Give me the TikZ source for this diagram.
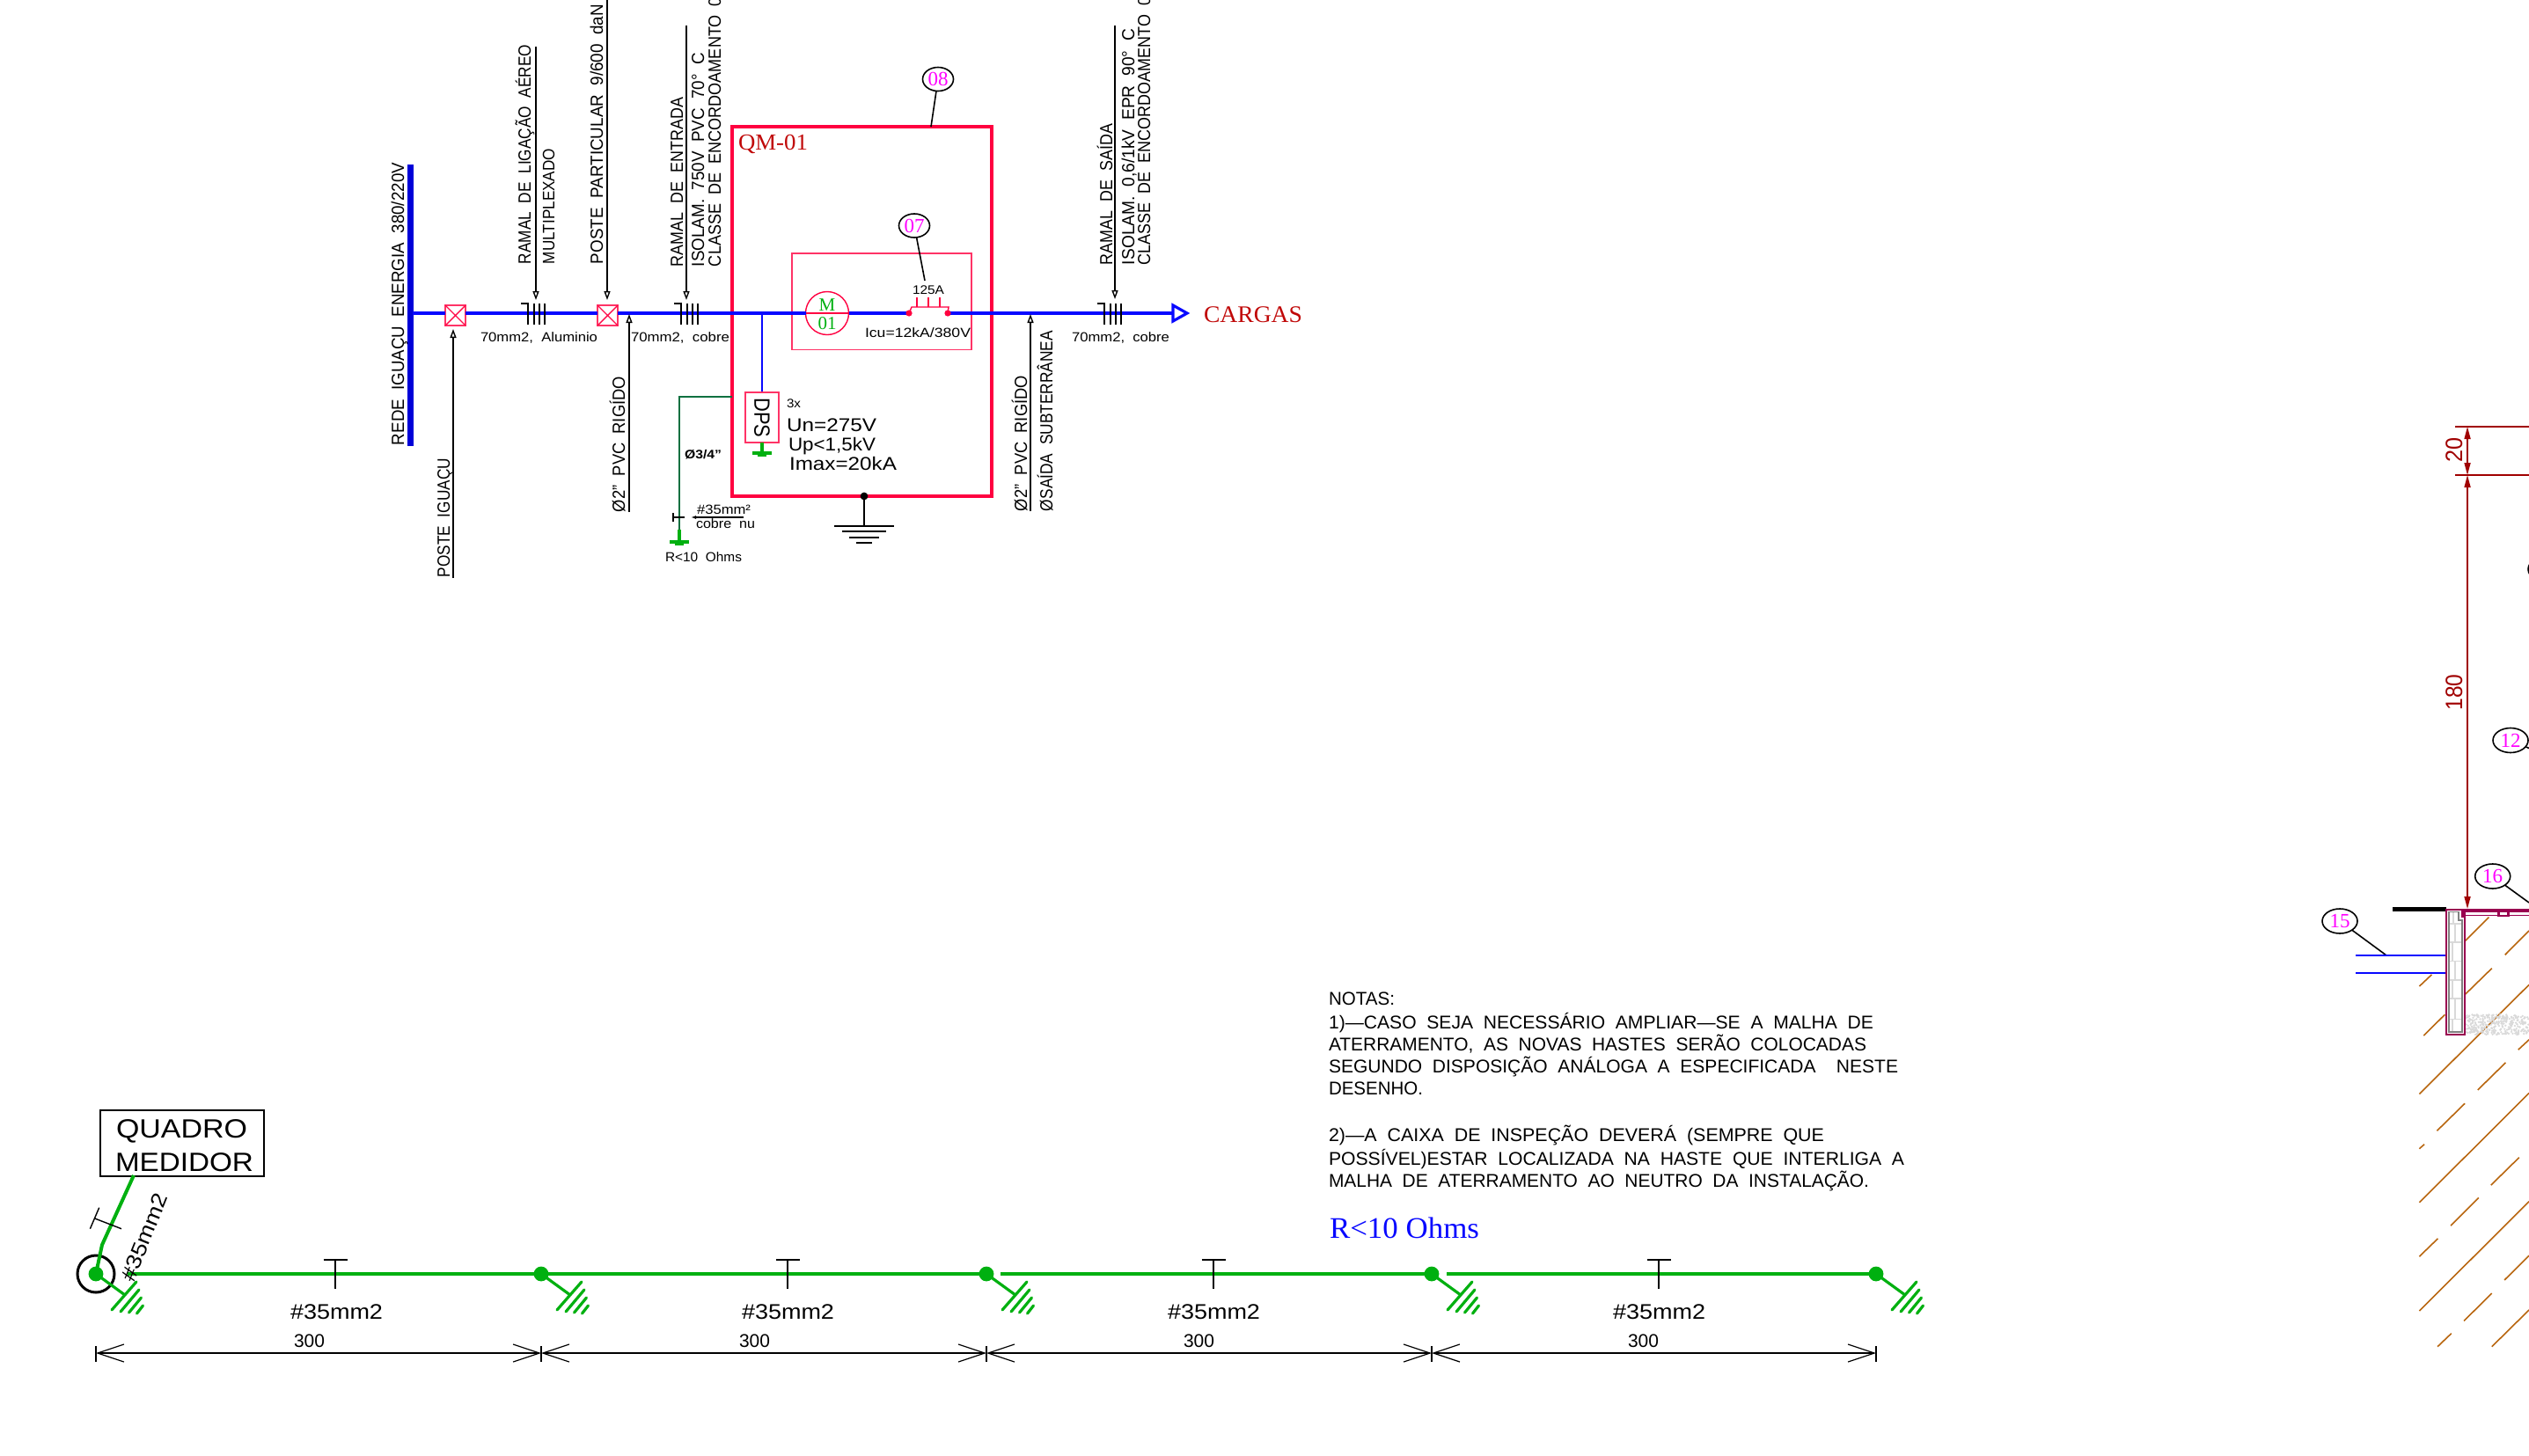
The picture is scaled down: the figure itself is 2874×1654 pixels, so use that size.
\documentclass[tikz,border=0pt]{standalone}
\usepackage{fontspec}
\usepackage{graphicx}
\setmainfont[WordSpace=2]{Liberation Sans}
\newfontfamily\srf{Liberation Serif}
\usetikzlibrary{arrows.meta,shapes.geometric,calc}
\newdimen\pxu \pxu=0.5pt
\newcommand\fit[3]{{\fontsize{#2pt}{#2pt}\selectfont\resizebox{#1\pxu}{\height}{#3}}}
\definecolor{qmred}{HTML}{FF0040}
\definecolor{boxred}{HTML}{FF3366}
\definecolor{wireblue}{HTML}{0808FF}
\definecolor{earth}{HTML}{00B010}
\definecolor{dkgreen}{HTML}{0F7040}
\definecolor{txtred}{HTML}{C00808}
\definecolor{dimred}{HTML}{A00000}
\definecolor{maroon}{HTML}{990050}
\definecolor{soil}{HTML}{B8660F}
\definecolor{bubbletxt}{HTML}{FF00FF}
\definecolor{barblue}{HTML}{0000D8}
\tikzset{
  lbl/.style={anchor=base west,inner sep=0,outer sep=0},
  lblc/.style={anchor=center,inner sep=0,outer sep=0},
  leader/.style={black,line width=0.7pt,-{Triangle[open,length=5pt,width=3.5pt]}},
  thin blk/.style={black,line width=0.6pt},
  bus/.style={wireblue,line width=1.7pt},
  green wire/.style={earth,line width=2pt},
  bubble/.style={ellipse,draw=black,line width=0.8pt,minimum width=20pt,minimum height=14pt,inner sep=0,outer sep=0,text=bubbletxt,font={\srf\fontsize{11.5pt}{11.5pt}\selectfont},fill=white},
  smallbubble/.style={bubble,minimum width=17.5pt,minimum height=13.5pt},
  xbox/.style={rectangle,draw=boxred,line width=0.8pt,fill=white,minimum width=11.5pt,minimum height=11.5pt,inner sep=0,outer sep=0},
  dimline/.style={black,line width=0.6pt,{Straight Barb[length=15pt,width=10pt]}-{Straight Barb[length=15pt,width=10pt]}},
  reddim/.style={dimred,line width=0.8pt},
  redtips/.style={reddim,{Triangle[length=7pt,width=3.5pt]}-{Triangle[length=7pt,width=3.5pt]}}
}
\newcommand\cable[1]{%
  \draw[black,line width=0.8pt] (#1,345)--(#1+8,345)--(#1+8,369);
  \draw[black,line width=0.8pt] (#1+15,345)--(#1+15,369) (#1+21,345)--(#1+21,369) (#1+27,345)--(#1+27,369);}
\newcommand\gnd[2]{%
  \fill[earth] (#1-11,#2) rectangle (#1+11,#2+4);
  \fill[earth] (#1-5,#2+4) rectangle (#1+5,#2+6);}
\begin{document}
\begin{tikzpicture}[x=0.5pt,y=-0.5pt]
\useasboundingbox (0,0) rectangle (2874,1654);
\clip (0,0) rectangle (2874,1654);

% --- named connection points
\coordinate (busE) at (469,356);
\coordinate (dpsJ) at (866,356);
\coordinate (brL) at (1033,356);
\coordinate (brR) at (1077,356);
\coordinate (loadA) at (1333,356);
\coordinate (dkTop) at (832,451);
\coordinate (dkCorner) at (772,451);
\coordinate (dkBot) at (772,602);
\coordinate (grTip) at (772,614);
\coordinate (gndTop) at (982,564);
\coordinate (gndBot) at (982,598);

% --- QM box
\node[rectangle,draw=qmred,line width=2.4pt,minimum width=147.5pt,minimum height=210pt,inner sep=0,outer sep=0] (qm) at (979.5,354) {};
\node[rectangle,draw=boxred,line width=0.7pt,minimum width=102pt,minimum height=54.8pt,inner sep=0,outer sep=0] (inner) at (1002,342.8) {};
\node[lbl] (qmt) at (839,170) {\srf\color{txtred}\fit{79}{13}{QM-01}};

% --- main feeder
\node[rectangle,fill=barblue,minimum width=3.25pt,minimum height=160pt,inner sep=0,outer sep=0] (bar) at (466.3,347) {};
\node[xbox] (x1) at (517.5,358.5) {};
\node[xbox] (x2) at (690.5,358.5) {};
\draw[qmred!70!boxred,line width=0.7pt] (x1.north west)--(x1.south east) (x1.north east)--(x1.south west);
\draw[qmred!70!boxred,line width=0.7pt] (x2.north west)--(x2.south east) (x2.north east)--(x2.south west);
\node[ellipse,draw=qmred,line width=0.7pt,minimum width=24.5pt,minimum height=24.5pt,inner sep=0,outer sep=0] (m01) at (940,356) {};
\draw[qmred,line width=0.7pt] (m01.west)--(m01.east);
\node[lblc,anchor=base] (mM) at (940,353) {\srf\color{earth}\fontsize{10.5pt}{10.5pt}\selectfont M};
\node[lblc,anchor=base] (m1) at (940,374) {\srf\color{earth}\fontsize{10.5pt}{10.5pt}\selectfont 01};
\draw[bus] (busE) -- (x1.west |- busE);
\draw[bus] (x1.east |- busE) -- (x2.west |- busE);
\draw[bus] (x2.east |- busE) -- (m01.west);
\draw[bus] (m01.east) -- (brL);
\draw[bus] (brR) -- (loadA);
\draw[bus,line width=1.3pt] (dpsJ) -- (866,446);
\draw[wireblue,line width=1.6pt,fill=white] (loadA |- 0,347) -- (1349,356) -- (loadA |- 0,365) -- cycle;
\node[lbl] (cargas) at (1368,366) {\srf\color{txtred}\fit{112}{13.5}{CARGAS}};

% cable marks
\cable{592}\cable{766}\cable{1247}

% --- breaker
\fill[qmred] (brL) circle[radius=1.8pt] (brR) circle[radius=1.8pt];
\draw[qmred,line width=0.7pt] (brL)--(1036,349)--(1078,349)--(brR);
\draw[qmred,line width=0.6pt] (1042,349)--(1042,338) (1055,349)--(1055,338) (1068,349)--(1068,338);
\node[lblc,anchor=base] (a125) at (1055,334) {\fit{36}{7}{125A}};
\node[lbl] (icu) at (983,383) {\fit{120}{7.5}{Icu=12kA/380V}};

% --- callouts
\node[smallbubble] (b08) at (1066,90) {08};
\coordinate (c08) at (1058,144);
\draw[thin blk,line width=0.8pt] (b08)--(c08);
\node[smallbubble] (b07) at (1039,256.5) {07};
\coordinate (c07) at (1051,319);
\draw[thin blk,line width=0.8pt] (b07)--(c07);

% --- leaders with rotated texts
\coordinate (l1a) at (609,53); \coordinate (l1b) at (609,341);
\coordinate (l2a) at (690,0); \coordinate (l2b) at (690,341);
\coordinate (l3a) at (780,29); \coordinate (l3b) at (780,341);
\coordinate (l4a) at (515,657); \coordinate (l4b) at (515,374);
\coordinate (l5a) at (715,582); \coordinate (l5b) at (715,357);
\coordinate (l6a) at (1267,29); \coordinate (l6b) at (1267,340);
\coordinate (l7a) at (1171,581); \coordinate (l7b) at (1171,357);
\foreach \p in {1,...,7} {\draw[leader] (l\p a) -- (l\p b);}

\node[lbl,rotate=90] (r1) at (459,506) {\fit{321}{10}{REDE IGUAÇU ENERGIA 380/220V}};
\node[lbl,rotate=90] (r2) at (603,300) {\fit{249}{10}{RAMAL DE LIGAÇÃO AÉREO}};
\node[lbl,rotate=90] (r3) at (630,300) {\fit{131}{9.5}{MULTIPLEXADO}};
\node[lbl,rotate=90] (r4) at (685,300) {\fit{295}{10}{POSTE PARTICULAR 9/600 daN}};
\node[lbl,rotate=90] (r5) at (776,303) {\fit{192}{10}{RAMAL DE ENTRADA}};
\node[lbl,rotate=90] (r6) at (800,303) {\fit{243}{10}{ISOLAM. 750V PVC 70° C}};
\node[lbl,rotate=90] (r7) at (819,303) {\fit{316}{10}{CLASSE DE ENCORDOAMENTO 05}};
\node[lbl,rotate=90] (r8) at (511,656) {\fit{135}{10}{POSTE IGUAÇU}};
\node[lbl,rotate=90] (r9) at (710,582) {\fit{154}{10}{Ø2" PVC RIGÍDO}};
\node[lbl,rotate=90] (r10) at (1264,301) {\fit{160}{10}{RAMAL DE SAÍDA}};
\node[lbl,rotate=90] (r11) at (1289,301) {\fit{268}{10}{ISOLAM. 0,6/1kV EPR 90° C}};
\node[lbl,rotate=90] (r12) at (1307,301) {\fit{314}{10}{CLASSE DE ENCORDOAMENTO 05}};
\node[lbl,rotate=90] (r13) at (1167,581) {\fit{154}{10}{Ø2" PVC RIGÍDO}};
\node[lbl,rotate=90] (r14) at (1196,581) {\fit{205}{10}{ØSAÍDA SUBTERRÂNEA}};

\node[lbl] (h1) at (546,388) {\fit{133}{7.5}{70mm2, Aluminio}};
\node[lbl] (h2) at (717,388) {\fit{112}{7.5}{70mm2, cobre}};
\node[lbl] (h3) at (1218,388) {\fit{111}{7.5}{70mm2, cobre}};

% --- DPS
\node[rectangle,draw=boxred,line width=0.8pt,minimum width=19pt,minimum height=28.5pt,inner sep=0,outer sep=0] (dps) at (866,474.5) {};
\node[lblc,rotate=-90] (dpst) at (866,475) {\fit{45}{12.5}{DPS}};
\draw[green wire] (dps.south) -- +(0,10);
\gnd{866}{513}
\node[lbl] (d0) at (894,463) {\fit{16}{7}{3x}};
\node[lbl] (d1) at (894,490) {\fit{102}{10.5}{Un=275V}};
\node[lbl] (d2) at (896,512) {\fit{99}{10.5}{Up<1,5kV}};
\node[lbl] (d3) at (897,534) {\fit{122}{10.5}{Imax=20kA}};

% --- dark green earth
\draw[dkgreen,line width=1.4pt] (dkTop)--(dkCorner)--(dkBot);
\draw[green wire] (dkBot)--(grTip);
\gnd{772}{614}
\node[lbl] (e1) at (778,521) {\fit{42}{7}{\bfseries Ø3/4"}};
\coordinate (s1) at (765,588); \coordinate (s2) at (778,588);
\draw[thin blk] (s1)--(s2) (765,583)--(765,593);
\coordinate (s3) at (845,588); \coordinate (s4) at (785,588);
\draw[thin blk,-{Latex[length=3pt,width=2pt]}] (s3)--(s4);
\node[lbl] (e2) at (792,584) {\fit{61}{7.5}{\#35mm²}};
\node[lbl] (e3) at (791,600) {\fit{67}{7.5}{cobre nu}};
\node[lbl] (e4) at (756,638) {\fit{87}{7.5}{R<10 Ohms}};

% --- black ground
\fill[black] (gndTop) circle[radius=2.2pt];
\draw[black,line width=1pt] (gndTop)--(gndBot);
\draw[black,line width=1pt] (948,598)--(1016,598) (957,604)--(1007,604) (965,611)--(999,611) (973,617)--(991,617);

% --- notes
\node[lbl] (n0) at (1510,1142) {\fit{75}{10.5}{NOTAS:}};
\node[lbl] (n1) at (1510,1169) {\fit{619}{10.5}{1)—CASO SEJA NECESSÁRIO AMPLIAR—SE A MALHA DE}};
\node[lbl] (n2) at (1510,1194) {\fit{611}{10.5}{ATERRAMENTO, AS NOVAS HASTES SERÃO COLOCADAS}};
\node[lbl] (n3) at (1510,1219) {\fit{647}{10.5}{SEGUNDO DISPOSIÇÃO ANÁLOGA A ESPECIFICADA\ \ NESTE}};
\node[lbl] (n4) at (1510,1244) {\fit{107}{10.5}{DESENHO.}};
\node[lbl] (n5) at (1510,1297) {\fit{563}{10.5}{2)—A CAIXA DE INSPEÇÃO DEVERÁ (SEMPRE QUE}};
\node[lbl] (n6) at (1510,1324) {\fit{654}{10.5}{POSSÍVEL)ESTAR LOCALIZADA NA HASTE QUE INTERLIGA A}};
\node[lbl] (n7) at (1510,1349) {\fit{614}{10.5}{MALHA DE ATERRAMENTO AO NEUTRO DA INSTALAÇÃO.}};
\node[lbl] (rohm) at (1511,1407) {\srf\color{wireblue}\fit{170}{17}{R<10 Ohms}};

% --- earthing grid
\node[rectangle,draw=black,line width=1pt,minimum width=93pt,minimum height=37.5pt,inner sep=0,outer sep=0] (qd) at (206.8,1299.5) {};
\node[lbl] (qd1) at (132,1293) {\fit{149}{15}{QUADRO}};
\node[lbl] (qd2) at (131,1331) {\fit{157}{15}{MEDIDOR}};
\node[circle,draw=black,line width=1.5pt,minimum size=21pt,inner sep=0,outer sep=0] (rod0) at (109,1448) {};
\coordinate (rod1) at (615,1448);
\coordinate (rod2) at (1121,1448);
\coordinate (rod3) at (1627,1448);
\coordinate (rod4) at (2132,1448);
\coordinate (qdOut) at (152,1336);
\coordinate (qdBend) at (116,1415);
\coordinate (w0) at (145,1448);
\coordinate (w2) at (1137,1448);
\coordinate (w3) at (1644,1448);
\draw[green wire] (qdOut)--(qdBend)--(rod0.center);
\draw[green wire] (w0)--(rod1);
\draw[green wire] (rod1)--(rod2);
\draw[green wire] (w2)--(rod3);
\draw[green wire] (w3)--(rod4);
\foreach \xx in {109,615,1121,1627,2132} {
  \begin{scope}[shift={(\xx,1448)}]
    \fill[earth] (0,0) circle[radius=4.2pt];
    \draw[earth,line width=1.6pt] (0,0)--(33,24);
    \draw[earth,line width=1.6pt,line cap=round] (46,9)--(18,41) (49,18)--(28,43) (51.5,27)--(37.5,44) (53.5,36)--(46.5,45);
  \end{scope}
}
\foreach \xx in {381,895,1379,1885} {
  \draw[thin blk,line width=0.7pt] (\xx-13.5,1432)--(\xx+13.5,1432) (\xx,1432)--(\xx,1465);
}
\coordinate (ob1) at (102.4,1396.7); \coordinate (ob2) at (112.7,1372.7);
\coordinate (ob3) at (107.8,1385); \coordinate (ob4) at (138,1396.7);
\draw[thin blk,line width=0.7pt] (ob1)--(ob2) (ob3)--(ob4);
\node[lbl,rotate=68] (w35) at (152,1458) {\fit{105}{12}{\#35mm2}};
\node[lbl] (g1) at (330,1499) {\fit{105}{12}{\#35mm2}};
\node[lbl] (g2) at (843,1499) {\fit{105}{12}{\#35mm2}};
\node[lbl] (g3) at (1327,1499) {\fit{105}{12}{\#35mm2}};
\node[lbl] (g4) at (1833,1499) {\fit{105}{12}{\#35mm2}};
\node[lbl] (t1) at (334,1531) {\fit{35}{10.5}{300}};
\node[lbl] (t2) at (840,1531) {\fit{35}{10.5}{300}};
\node[lbl] (t3) at (1345,1531) {\fit{35}{10.5}{300}};
\node[lbl] (t4) at (1850,1531) {\fit{35}{10.5}{300}};
\coordinate (d0) at (109,1538); \coordinate (d1) at (615,1538);
\coordinate (d2) at (1121,1538); \coordinate (d3) at (1627,1538);
\coordinate (d4) at (2132,1538);
\draw[dimline] (d0)--(d1);
\draw[dimline] (d1)--(d2);
\draw[dimline] (d2)--(d3);
\draw[dimline] (d3)--(d4);
\foreach \xx in {109,615,1121,1627,2132} {\draw[thin blk,line width=0.7pt] (\xx,1530)--(\xx,1548);}

% --- right: elevation detail
\begin{scope}[shift={(2600,980)},x=0.1667pt,y=-0.17857pt]
\foreach \a/\b/\c/\d in {
 685/175/605/250, 822/218/740/295, 695/338/605/420, 490/358/448/395,
 535/485/463/552, 822/390/448/738, 822/565/785/597, 742/638/647/725,
 603/768/508/855, 465/898/448/912, 822/735/448/1083, 788/940/692/1028,
 650/1068/555/1157, 511/1198/448/1255, 822/1080/448/1428, 822/1252/738/1330,
 695/1372/600/1460, 557/1500/510/1542, 822/1425/695/1542}
 {\draw[soil,line width=0.8pt] (\a,\b)--(\c,\d);}
\end{scope}
\pgfmathsetseed{7}
\foreach \i in {1,...,340} {
  \pgfmathsetmacro\sx{2802+72*rnd}
  \pgfmathsetmacro\sy{1153+23*rnd}
  \fill[black!15] (\sx,\sy) circle[radius=0.65pt];
}
\coordinate (dT) at (2804,485); \coordinate (dM) at (2804,540); \coordinate (dB) at (2804,1033);
\draw[dimred,line width=0.6pt] (2790,485)--(2874,485);
\draw[dimred,line width=1.1pt] (2790,540)--(2874,540);
\draw[redtips] (dT)--(dM);
\draw[redtips] (dM)--(dB);
\node[lbl,rotate=90] (r20) at (2798,525) {\color{dimred}\fit{28}{13.5}{20}};
\node[lbl,rotate=90] (r180) at (2798,807.5) {\color{dimred}\fit{41}{13.5}{180}};

\node[bubble] (b12) at (2853,841.5) {12};
\coordinate (c12) at (2880,853);
\draw[black,line width=0.8pt] (b12)--(c12);
\node[ellipse,draw=black,line width=0.8pt,minimum width=20pt,minimum height=14pt,inner sep=0,outer sep=0] (bhid) at (2893,647) {};
\node[bubble] (b16) at (2832.7,996) {16};
\coordinate (c16) at (2874,1026);
\draw[black,line width=0.8pt] (b16)--(c16);
\node[bubble] (b15) at (2659,1047) {15};
\coordinate (c15) at (2712,1086);
\draw[black,line width=0.8pt] (b15)--(c15);
\coordinate (bl1) at (2677,1086); \coordinate (bl2) at (2780,1086);
\coordinate (bl3) at (2677,1106); \coordinate (bl4) at (2780,1106);
\draw[wireblue,line width=0.8pt] (bl1)--(bl2);
\draw[wireblue,line width=0.8pt] (bl3)--(bl4);
\fill[black] (2719,1031) rectangle (2780,1036);

% wall
\fill[white] (2780,1034) rectangle (2800.7,1176);
\foreach \yy in {1050,1071,1092.5,1114,1135,1158.6} {\draw[black!15,line width=0.8pt] (2783,\yy)--(2798,\yy);}
\foreach \ya/\yb/\xa in {1050/1071/2790,1071/1092.5/2787,1092.5/1114/2790,1114/1135/2787,1135/1158.6/2790,1158.6/1173/2787,1036/1050/2788}
 {\draw[black!15,line width=0.8pt] (\xa,\ya)--(\xa,\yb);}
\draw[black!50,line width=0.7pt] (2783,1036.4)--(2794,1036.4)--(2794,1046)--(2798,1046)--(2798,1173)--(2783,1173)--cycle;
\draw[maroon,line width=0.9pt] (2780,1034)--(2800.7,1034)--(2800.7,1176)--(2780,1176)--cycle;
% slab
\fill[maroon] (2797,1033) rectangle (2874,1036.5);
\fill[maroon] (2797,1033) rectangle (2801,1043);
\draw[maroon,line width=0.6pt] (2797,1040.5)--(2874,1040.5);
\fill[maroon] (2838,1035) rectangle (2852,1041.5);
\fill[white] (2841,1036.5) rectangle (2849,1039.5);
\end{tikzpicture}
\end{document}
